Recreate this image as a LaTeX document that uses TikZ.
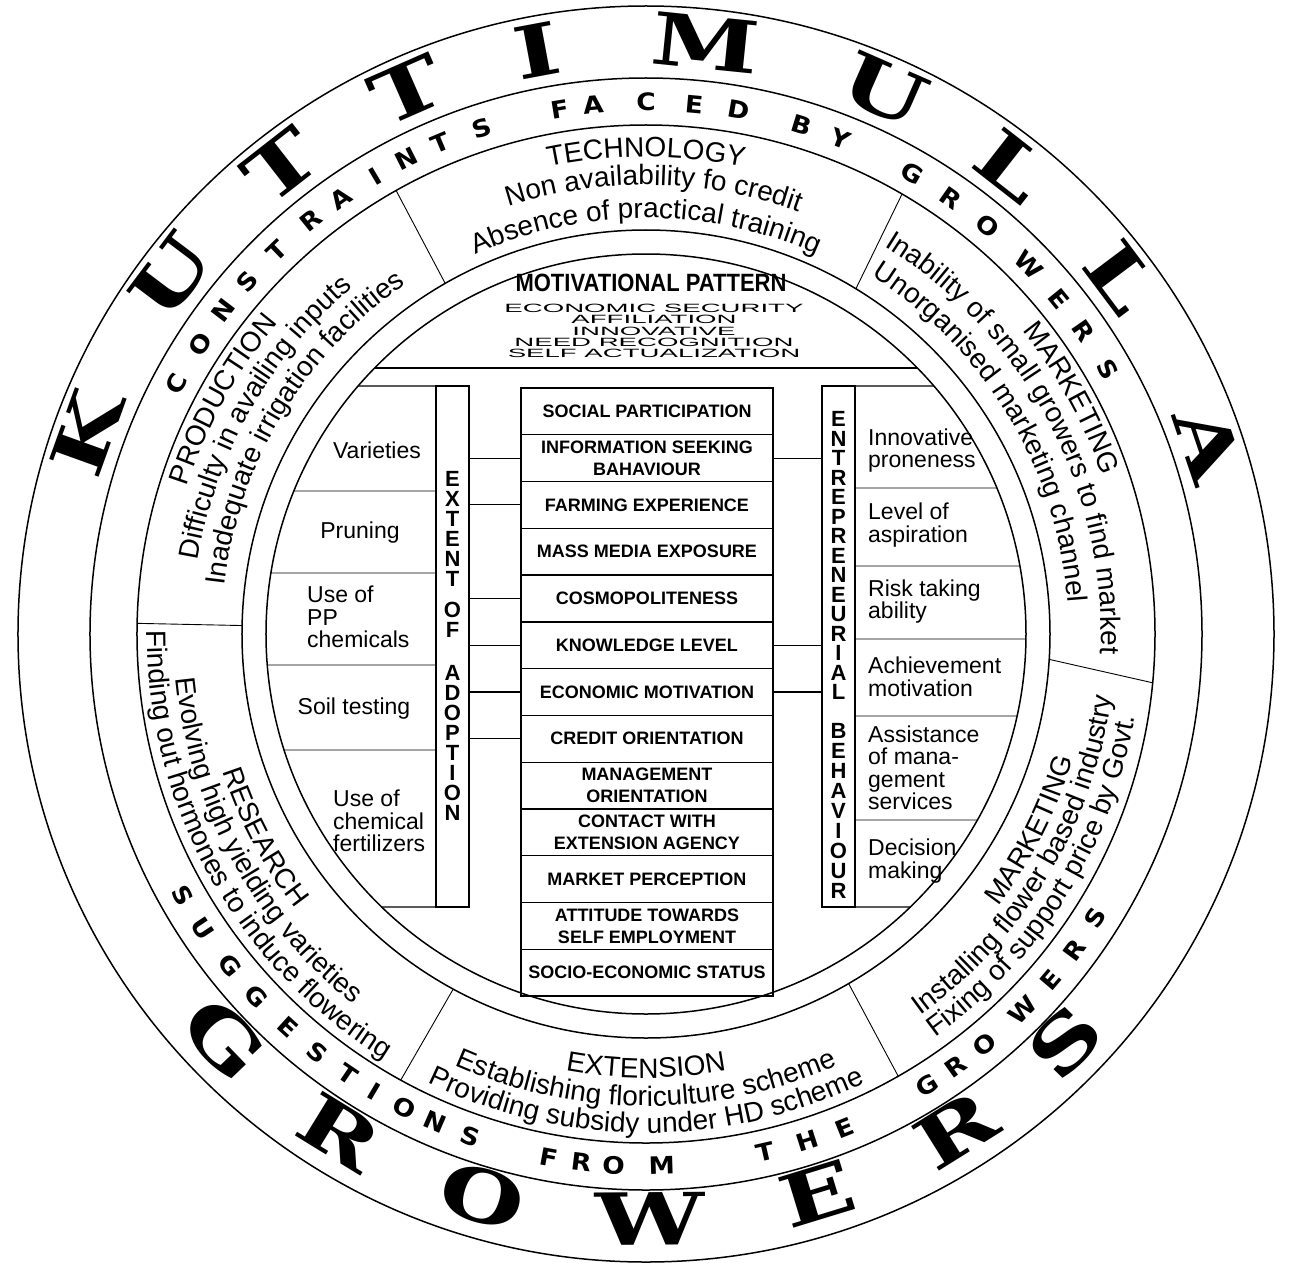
\documentclass[tikz,border=0pt]{standalone}
\usepackage{fontspec}
\setmainfont{Liberation Sans}
\newfontfamily\bigserif{DejaVu Serif}[FakeStretch=1.35]
\newfontfamily\ringfont{DejaVu Sans}[FakeStretch=1.1]
\newfontfamily\narrowfont{Liberation Sans}[FakeStretch=0.88]
\newfontfamily\widefont{Liberation Sans}[FakeStretch=2.3]
\usetikzlibrary{decorations.text,calc}

\begin{document}
\begin{tikzpicture}[
  x=1pt, y=1pt,
  ring/.style={line width=1.5pt},
  box/.style={draw, line width=1.3pt, inner sep=0pt},
  factor/.style={box, minimum width=252pt, minimum height=46.77pt,
    align=center, font=\bfseries\fontsize{18}{22}\selectfont},
  vbox/.style={box, minimum width=33pt, minimum height=521pt},
  vletters/.style={align=center, inner sep=0pt,
    font=\bfseries\fontsize{22}{20}\selectfont},
  trait/.style={align=left, inner sep=0pt, font=\fontsize{23}{22.5}\selectfont},
  motive/.style={inner sep=0pt, font=\widefont\fontsize{12}{12}\selectfont},
  divider/.style={line width=0.9pt},
  link/.style={line width=1.1pt},
  sector/.style={line width=0.9pt},
  bigletter/.style={inner sep=0pt,
    font=\bigserif\bfseries\fontsize{72}{72}\selectfont},
  ringletter/.style={inner sep=0pt,
    font=\ringfont\bfseries\fontsize{24}{24}\selectfont},
  arctext/.style={decorate, decoration={text along path, text align=center,
    text={|\fontsize{28}{28}\selectfont|#1}}}
]
% page
\fill[white] (-646,-628) rectangle (646,634);
\useasboundingbox (-646,-628) rectangle (646,634);

% rings
\foreach \r in {628,556,509,404,380}
  \draw[ring] (0,0) circle[radius=\r];

% big letters
\foreach \a/\ch [count=\i] in {160.2/K,143/U,127.9/T,113.7/T,100.6/I,
    84.2/M,66.3/U,52/L,36.9/L,18.7/A}
  \node[bigletter, rotate=\a-90] (kut\i) at (\a:594) {\ch};
\foreach \a/\ch [count=\i] in {223.9/G,238.4/R,253.8/O,270.4/W,
    287/E,302/R,315.8/S}
  \node[bigletter, rotate=\a+90] (gro\i) at (\a:585) {\ch};

% constraints / suggestions ring
\foreach \a/\ch [count=\i] in {152/C,147/O,142.6/N,138.5/S,134/T,129/R,
    125/A,120.6/I,116.8/N,112.7/T,108/S,99.3/F,95.7/A,90/C,84.8/E,79.9/D,
    73/B,68.6/Y,60/G,55/R,50/O,44/W,39/E,34.7/R,29.8/S}
  \node[ringletter, rotate=\a-90] (con\i) at (\a:532) {\ch};
\foreach \a/\ch [count=\i] in {209.4/S,213.6/U,218.5/G,222.9/G,227.7/E,
    231.8/S,235.9/T,239.3/I,243/O,246.6/N,250.7/S,259.5/F,263/R,266.5/O,
    271.7/M,283/T,287.7/H,291.9/E,301.9/G,305.6/R,309.5/O,315/W,319.5/E,
    323.6/R,327.7/S}
  \node[ringletter, rotate=\a+90] (sug\i) at (\a:532) {\ch};

% sectors
\foreach \a/\b in {119.8/119.4,58.7/59.8,-3.6/-5.5,-59.9/-60.3,
    -118.5/-118.8,178.8/178.8}
  \draw[sector] (\a:404) -- (\b:509);

% technology
\path[arctext=TECHNOLOGY] (135:477) arc[start angle=135, end angle=45, radius=477];
\path[arctext=Non availability fo credit] (134:449) arc[start angle=134, end angle=44, radius=449];
\path[arctext=Absence of practical training] (135:416) arc[start angle=135, end angle=45, radius=416];
% production
\path[arctext=PRODUCTION] (196:482) arc[start angle=196, end angle=106, radius=482];
\path[arctext=Difficulty in availing inputs] (195.5:454) arc[start angle=195.5, end angle=105.5, radius=454];
\path[arctext=Inadequate irrigation facilities] (194:424) arc[start angle=194, end angle=104, radius=424];
% marketing (constraint)
\path[arctext=MARKETING] (74:483) arc[start angle=74, end angle=-16, radius=483];
\path[arctext=Inability of small growers to find market] (73:455) arc[start angle=73, end angle=-17, radius=455];
\path[arctext=Unorganised marketing channel] (76:423) arc[start angle=76, end angle=-14, radius=423];
% marketing (suggestion)
\path[arctext=MARKETING] (-72:445) arc[start angle=-72, end angle=18, radius=445];
\path[arctext=Installing flower based industry] (-76:470) arc[start angle=-76, end angle=14, radius=470];
\path[arctext=Fixing of support price by Govt.] (-77:496) arc[start angle=-77, end angle=13, radius=496];
% extension
\path[arctext=EXTENSION] (-135:444) arc[start angle=-135, end angle=-45, radius=444];
\path[arctext=Establishing floriculture scheme] (-135:472) arc[start angle=-135, end angle=-45, radius=472];
\path[arctext=Providing subsidy under HD scheme] (-135:499) arc[start angle=-135, end angle=-45, radius=499];
% research
\path[arctext=RESEARCH] (163:445) arc[start angle=163, end angle=253, radius=445];
\path[arctext=Evolving high yielding varieties] (163.5:472) arc[start angle=163.5, end angle=253.5, radius=472];
\path[arctext=Finding out hormones to induce flowering] (164:499) arc[start angle=164, end angle=254, radius=499];

% motivational pattern
\draw[box] ({180-asin(266/380)}:380) -- ({asin(266/380)}:380);
\node[font=\narrowfont\bfseries\fontsize{25}{25}\selectfont, inner sep=0pt]
  (motiv) at (5,351) {MOTIVATIONAL PATTERN};
\foreach \y/\t [count=\i] in {326/ECONOMIC SECURITY,315/AFFILIATION,
    303/INNOVATIVE,292/NEED RECOGNITION,281/SELF ACTUALIZATION}
  \node[motive] (mot\i) at (8,\y) {\t};

% factor column
\foreach \t [count=\i] in {SOCIAL PARTICIPATION,{INFORMATION SEEKING\\BAHAVIOUR},
    FARMING EXPERIENCE,MASS MEDIA EXPOSURE,COSMOPOLITENESS,KNOWLEDGE LEVEL,
    ECONOMIC MOTIVATION,CREDIT ORIENTATION,{MANAGEMENT\\ORIENTATION},
    {CONTACT WITH\\EXTENSION AGENCY},MARKET PERCEPTION,
    {ATTITUDE TOWARDS\\SELF EMPLOYMENT},SOCIO-ECONOMIC STATUS}
  \node[factor] (f\i) at (1,{222.6-46.77*(\i-1)}) {\t};

% extent of adoption
\node[vbox] (ext) at (-193.5,-12.5) {};
\node[vletters] (ext1) at (-193.5,105) {E\\X\\T\\E\\N\\T};
\node[vletters] (ext2) at (-193.5,14) {O\\F};
\node[vletters] (ext3) at (-193.5,-109) {A\\D\\O\\P\\T\\I\\O\\N};
\foreach \y in {248,-273}
  \draw[box] ({180-asin(\y/380)}:380) -- (ext.west |- 0,\y);
\foreach \y in {143,61,-31,-116}
  \draw[divider] ({180-asin(\y/380)}:380) -- (ext.west |- 0,\y);
\node[trait] (ad1) at (-269,184) {Varieties};
\node[trait] (ad2) at (-286,101) {Pruning};
\node[trait, anchor=west] (ad3) at (-339,17) {Use of\\PP\\chemicals};
\node[trait] (ad4) at (-292,-75) {Soil testing};
\node[trait, anchor=west] (ad5) at (-313,-187) {Use of\\chemical\\fertilizers};
\foreach \i in {2,3,5,6,7,8}
  \draw[link] (ext.east |- f\i.west) -- (f\i.west);

% entrepreneurial behaviour
\node[vbox] (ent) at (192.5,-12.5) {};
\node[vletters, font=\bfseries\fontsize{22}{19.5}\selectfont]
  (ent1) at (192.5,78.5) {E\\N\\T\\R\\E\\P\\R\\E\\N\\E\\U\\R\\I\\A\\L};
\node[vletters] (ent2) at (192.5,-177) {B\\E\\H\\A\\V\\I\\O\\U\\R};
\foreach \y in {248,-273}
  \draw[box] (ent.east |- 0,\y) -- ({asin(\y/380)}:380);
\foreach \y in {146,68,-5,-82,-186}
  \draw[divider] (ent.east |- 0,\y) -- ({asin(\y/380)}:380);
\node[trait, anchor=west] (eb1) at (222,183.5) {Innovative\\proneness};
\node[trait, anchor=west] (eb2) at (222,109) {Level of\\aspiration};
\node[trait, anchor=west] (eb3) at (222,32.5) {Risk taking\\ability};
\node[trait, anchor=west] (eb4) at (222,-43) {Achievement\\motivation};
\node[trait, anchor=west] (eb5) at (222,-134) {Assistance\\of mana-\\gement\\services};
\node[trait, anchor=west] (eb6) at (222,-227) {Decision\\making};
\foreach \i in {2,6,7}
  \draw[link] (f\i.east) -- (ent.west |- f\i.east);
\end{tikzpicture}
\end{document}
